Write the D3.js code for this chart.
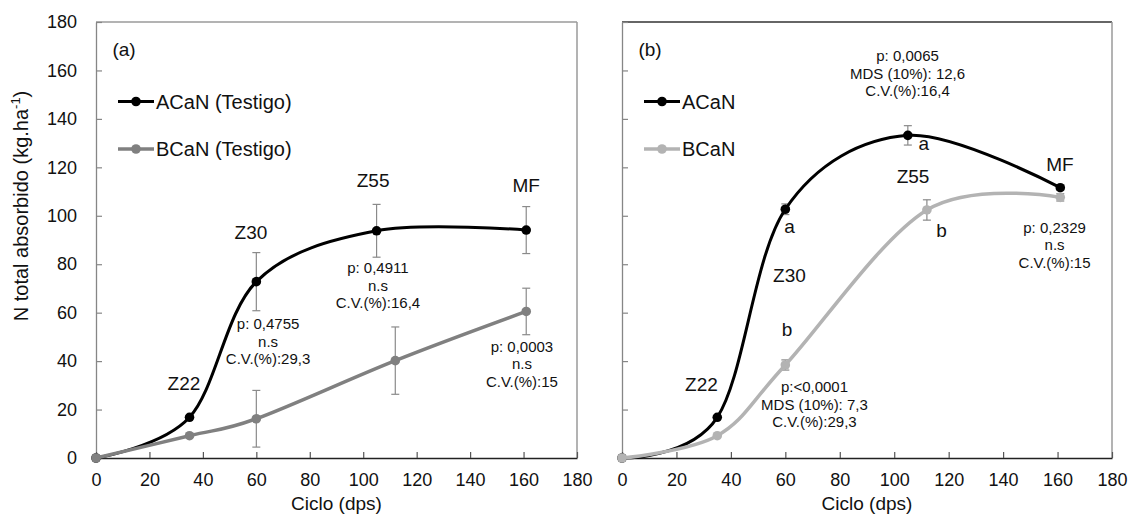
<!DOCTYPE html>
<html>
<head>
<meta charset="utf-8">
<script src="https://cdn.jsdelivr.net/npm/d3@7"></script>
<style>
  html, body { margin: 0; padding: 0; background: #fff; }
  svg { display: block; font-family: "Liberation Sans", Arial, sans-serif; }
</style>
</head>
<body>
<svg id="chart" width="1132" height="522"></svg>
<script>
// Sampling days (days after sowing) for each series
const daysACaN = [0, 35, 60, 105, 161];
const daysBCaN = [0, 35, 60, 112, 161];

// Panel (a): control treatments
const aACaN = [0, 16.8, 72.8, 93.8, 94.1];
const aACaNErr = [0, 0, 12.0, 10.9, 9.7];
const aBCaN = [0, 9.2, 16.2, 40.2, 60.5];
const aBCaNErr = [0, 0, 11.7, 13.9, 9.6];

// Panel (b)
const bACaN = [0, 16.8, 102.7, 133.2, 111.6];
const bACaNErr = [0, 0, 2.2, 4.0, 1.0];
const bBCaN = [0, 9.2, 38.4, 102.4, 107.6];
const bBCaNErr = [0, 0, 2.1, 4.2, 1.5];

const xTicks = [0, 20, 40, 60, 80, 100, 120, 140, 160, 180];
const yTicks = [0, 20, 40, 60, 80, 100, 120, 140, 160, 180];

// Stage labels [day, value, text]
const stagesA = [[32.9, 31, "Z22"], [58, 93.3, "Z30"], [103.7, 114.8, "Z55"], [161, 112.7, "MF"]];
const stagesB = [[29.2, 30.6, "Z22"], [61.5, 75.6, "Z30"], [106.9, 116.1, "Z55"], [160.9, 121.4, "MF"]];

// Statistics blocks [day, value, lines]
const statsA = [
  [105.5, 78.4, ["p: 0,4911", "n.s", "C.V.(%):16,4"]],
  [64.4, 55.3, ["p: 0,4755", "n.s", "C.V.(%):29,3"]],
  [159.4, 46.0, ["p: 0,0003", "n.s", "C.V.(%):15"]]
];
const statsB = [
  [104.9, 166.0, ["p: 0,0065", "MDS (10%): 12,6", "C.V.(%):16,4"]],
  [158.9, 95.1, ["p: 0,2329", "n.s", "C.V.(%):15"]],
  [70.7, 29.4, ["p:<0,0001", "MDS (10%): 7,3", "C.V.(%):29,3"]]
];
// Mean separation letters [day, value, letter]
const lettersB = [[110.9, 129.9, "a"], [61.5, 95.5, "a"], [117.4, 94.1, "b"], [60.6, 53.3, "b"]];

const svg = d3.select("#chart");
const Y0 = 458, Y1 = 22;
const yScale = d3.scaleLinear().domain([0, 180]).range([Y0, Y1]);

function panel(opts) {
  const x = d3.scaleLinear().domain([0, 180]).range([opts.left, opts.right]);
  const g = svg.append("g");

  // frame
  g.append("line").attr("x1", opts.left).attr("x2", opts.right).attr("y1", Y1).attr("y2", Y1)
    .attr("stroke", opts.topColor).attr("stroke-width", 1.3);
  g.append("line").attr("x1", opts.right).attr("x2", opts.right).attr("y1", Y1).attr("y2", Y0)
    .attr("stroke", "#9a9a9a").attr("stroke-width", 1.5);

  // y axis (ticks inward)
  const yAxis = d3.axisLeft(yScale).tickValues(yTicks).tickSizeInner(-6).tickSizeOuter(0)
    .tickFormat(opts.yLabels ? d3.format("d") : "");
  const ya = g.append("g").attr("transform", `translate(${opts.left},0)`).call(yAxis);
  ya.select(".domain").attr("stroke", "#868686").attr("stroke-width", 1.3);
  ya.selectAll(".tick line").attr("stroke", "#868686").attr("stroke-width", 1.2);
  ya.selectAll(".tick text").attr("x", -19).attr("font-size", 18).attr("fill", "#111")
    .attr("font-family", "Liberation Sans, Arial, sans-serif");

  // x axis (ticks inward)
  const xAxis = d3.axisBottom(x).tickValues(xTicks).tickSizeInner(-6).tickSizeOuter(0)
    .tickFormat(d3.format("d"));
  const xa = g.append("g").attr("transform", `translate(0,${Y0})`).call(xAxis);
  xa.select(".domain").attr("stroke", "#222").attr("stroke-width", 1.3);
  xa.selectAll(".tick line").attr("stroke", "#555").attr("stroke-width", 1.2);
  xa.selectAll(".tick text").attr("y", 15).attr("font-size", 18).attr("fill", "#111")
    .attr("font-family", "Liberation Sans, Arial, sans-serif");

  g.append("text").attr("x", (opts.left + opts.right) / 2).attr("y", 503).attr("dy", "0.35em")
    .attr("text-anchor", "middle").attr("font-size", 19).attr("fill", "#111").text("Ciclo (dps)");

  // panel tag
  g.append("text").attr("x", opts.left + 28).attr("y", 49).attr("dy", "0.35em")
    .attr("text-anchor", "middle").attr("font-size", 19).attr("fill", "#111").text(opts.tag);

  opts.series.forEach(s => {
    const line = d3.line().x((d, i) => x(s.days[i])).y(d => yScale(d))
      .curve(d3.curveCardinal.tension(0));
    // error bars
    const eb = g.append("g");
    s.values.forEach((v, i) => {
      const e = s.err[i];
      if (!e) return;
      const cx = x(s.days[i]);
      eb.append("line").attr("x1", cx).attr("x2", cx).attr("y1", yScale(v - e)).attr("y2", yScale(v + e))
        .attr("stroke", "#8a8a8a").attr("stroke-width", 1.2);
      [v - e, v + e].forEach(w => {
        eb.append("line").attr("x1", cx - 4).attr("x2", cx + 4).attr("y1", yScale(w)).attr("y2", yScale(w))
          .attr("stroke", "#8a8a8a").attr("stroke-width", 1.2);
      });
    });
    g.append("path").datum(s.values).attr("d", line).attr("fill", "none")
      .attr("stroke", s.color).attr("stroke-width", s.width);
    g.selectAll(null).data(s.values).enter().append("circle")
      .attr("cx", (d, i) => x(s.days[i])).attr("cy", d => yScale(d)).attr("r", 4.8)
      .attr("fill", s.color);
  });

  // legend
  opts.series.forEach((s, i) => {
    const ly = 101.5 + i * 47.5;
    const lx = opts.left + 22;
    g.append("line").attr("x1", lx).attr("x2", lx + 36).attr("y1", ly).attr("y2", ly)
      .attr("stroke", s.color).attr("stroke-width", s.width);
    g.append("circle").attr("cx", lx + 18).attr("cy", ly).attr("r", 4.8).attr("fill", s.color);
    g.append("text").attr("x", lx + 38).attr("y", ly).attr("dy", "0.35em")
      .attr("font-size", 20).attr("fill", "#111").text(s.name);
  });

  // stage labels
  opts.stages.forEach(([d, v, t]) => {
    g.append("text").attr("x", x(d)).attr("y", yScale(v)).attr("dy", "0.35em")
      .attr("text-anchor", "middle").attr("font-size", 19).attr("fill", "#111").text(t);
  });

  // statistics
  opts.stats.forEach(([d, v, lines]) => {
    const t = g.append("text").attr("text-anchor", "middle").attr("font-size", 15).attr("fill", "#111");
    lines.forEach((l, k) => {
      t.append("tspan").attr("x", x(d)).attr("y", yScale(v) + k * 17.5).attr("dy", "0.35em").text(l);
    });
  });

  (opts.letters || []).forEach(([d, v, t]) => {
    g.append("text").attr("x", x(d)).attr("y", yScale(v)).attr("dy", "0.35em")
      .attr("text-anchor", "middle").attr("font-size", 19).attr("fill", "#111").text(t);
  });
}

panel({
  left: 96, right: 577, tag: "(a)", yLabels: true, topColor: "#9a9a9a",
  series: [
    { name: "ACaN (Testigo)", days: daysACaN, values: aACaN, err: aACaNErr, color: "#000", width: 3 },
    { name: "BCaN (Testigo)", days: daysBCaN, values: aBCaN, err: aBCaNErr, color: "#808080", width: 3.5 }
  ],
  stages: stagesA, stats: statsA
});

panel({
  left: 622, right: 1112, tag: "(b)", yLabels: false, topColor: "#333",
  series: [
    { name: "ACaN", days: daysACaN, values: bACaN, err: bACaNErr, color: "#000", width: 3 },
    { name: "BCaN", days: daysBCaN, values: bBCaN, err: bBCaNErr, color: "#b3b3b3", width: 3.5 }
  ],
  stages: stagesB, stats: statsB, letters: lettersB
});

// y axis title
const yt = svg.append("text").attr("transform", "translate(21,206) rotate(-90)")
  .attr("text-anchor", "middle").attr("dy", "0.35em").attr("font-size", 20).attr("fill", "#111");
yt.append("tspan").text("N total absorbido (kg.ha");
yt.append("tspan").attr("font-size", 13).attr("dy", -8).text("-1");
yt.append("tspan").attr("dy", 8).text(")");
</script>
</body>
</html>
